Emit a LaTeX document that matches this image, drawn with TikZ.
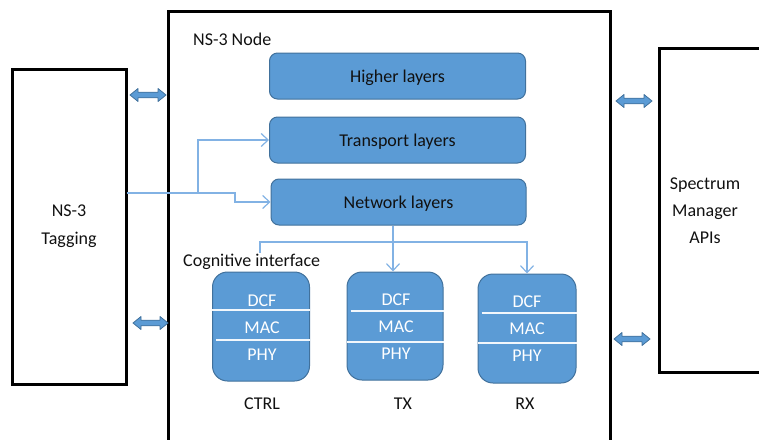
\documentclass[tikz,border=0pt]{standalone}
\usepackage{fontspec}
\setmainfont{Carlito}
\usetikzlibrary{arrows.meta}
\definecolor{boxblue}{HTML}{5B9BD5}
\definecolor{boxedge}{HTML}{41719C}
\definecolor{linkblue}{RGB}{130,178,228}
\definecolor{dtext}{HTML}{111111}
\tikzset{
  heavy/.style={draw=black,line width=3pt},
  layer/.style={draw=boxedge,fill=boxblue,line width=1pt,rounded corners=8pt,
    minimum width=256pt,minimum height=46pt,inner sep=0pt,text=dtext,text depth=0pt},
  unit/.style={draw=boxedge,fill=boxblue,line width=1pt,rounded corners=15pt,
    minimum width=97pt,minimum height=109pt,inner sep=0pt},
  unittext/.style={text=white,inner sep=0pt},
  sepline/.style={draw=white!92!boxblue,line width=1.2pt},
  conn/.style={draw=linkblue,line width=1.5pt},
  tip/.style={-{Straight Barb[length=7pt,width=13pt,line width=1.2pt]}},
  blockarrow/.style={draw=boxedge,fill=boxblue,line width=0.8pt,line join=round},
  lbl/.style={inner sep=0pt,text=dtext}
}
\newcommand\dblarr[3]{%
  \draw[blockarrow] (#1,#3) -- ++(8,-6.5) -- ++(0,3.7) -- (#2-8,#3-2.8) -- ++(0,-3.7)
    -- (#2,#3) -- ++(-8,6.5) -- ++(0,-3.7) -- (#1+8,#3+2.8) -- ++(0,3.7) -- cycle;}
\begin{document}
\begin{tikzpicture}[x=1pt,y=-1pt,font=\fontsize{18}{27}\selectfont]
\useasboundingbox (0,0) rectangle (759,439);
% main NS-3 node frame (open at bottom)
\draw[heavy] (168,442) -- (168,11) -- (610,11) -- (610,442);
\node[lbl,anchor=west] (nodelbl) at (193,39) {NS-3 Node};
% left box
\node[heavy,minimum width=114pt,minimum height=315pt,inner sep=0pt,align=center,text=dtext]
  (tag) at (69,226.5) {NS-3\\[1pt]Tagging};
% right box (cut at page edge)
\draw[heavy] (762,48) -- (659,48) -- (659,372) -- (762,372);
\node[lbl,align=center] (spec) at (705,211) {Spectrum\\Manager\\APIs};
% layers
\node[layer] (higher) at (397.5,76) {Higher layers};
\node[layer] (trans) at (397.5,140) {Transport layers};
\node[layer,minimum width=255pt] (net) at (398.5,202) {Network layers};
% sub units
\node[unit] (ctrl) at (261,326.5) {};
\node[unit,minimum width=96pt,minimum height=108pt] (tx) at (395,326) {};
\node[unit,minimum width=98pt] (rx) at (527,328.5) {};
\draw[sepline] (ctrl.west |- 0,310) -- (ctrl.east |- 0,310);
\draw[sepline] ([xshift=4pt]ctrl.west |- 0,340) -- (ctrl.east |- 0,340);
\draw[sepline] ([xshift=4pt]tx.west |- 0,311) -- (tx.east |- 0,311);
\draw[sepline] (tx.west |- 0,342) -- (tx.east |- 0,342);
\draw[sepline] ([xshift=4pt]rx.west |- 0,313) -- (rx.east |- 0,313);
\draw[sepline] (rx.west |- 0,343) -- (rx.east |- 0,343);
\node[unittext] (c1) at (262,301) {DCF};
\node[unittext] (c2) at (262,328) {MAC};
\node[unittext] (c3) at (262,355) {PHY};
\node[unittext] (t1) at (396,300) {DCF};
\node[unittext] (t2) at (396,327) {MAC};
\node[unittext] (t3) at (396,354) {PHY};
\node[unittext] (r1) at (527,302) {DCF};
\node[unittext] (r2) at (527,329) {MAC};
\node[unittext] (r3) at (527,356) {PHY};
\node[lbl] (ctrllbl) at (262,404) {CTRL};
\node[lbl] (txlbl) at (403,404) {TX};
\node[lbl] (rxlbl) at (525,404) {RX};
% connectors
\coordinate (src) at (127,193);
\coordinate (jn) at (198,193);
\draw[conn,tip] (src) -- (235,193) |- (net.west);
\draw[conn,tip] (jn) |- (trans.west);
\coordinate (split) at (393,242);
\draw[conn,tip] (net.south -| 393,0) -- (tx.north -| 393,0);
\draw[conn,tip] (split) -- (260,242) -- (ctrl.north -| 260,0);
\draw[conn,tip] (split) -| (rx.north);
\node[lbl,anchor=west,fill=white,inner sep=1pt] (cog) at (182,262) {Cognitive interface};
% double block arrows
\dblarr{130}{166}{95}
\dblarr{133}{168}{323}
\dblarr{616}{652}{101}
\dblarr{614}{650}{339}
\end{tikzpicture}
\end{document}
